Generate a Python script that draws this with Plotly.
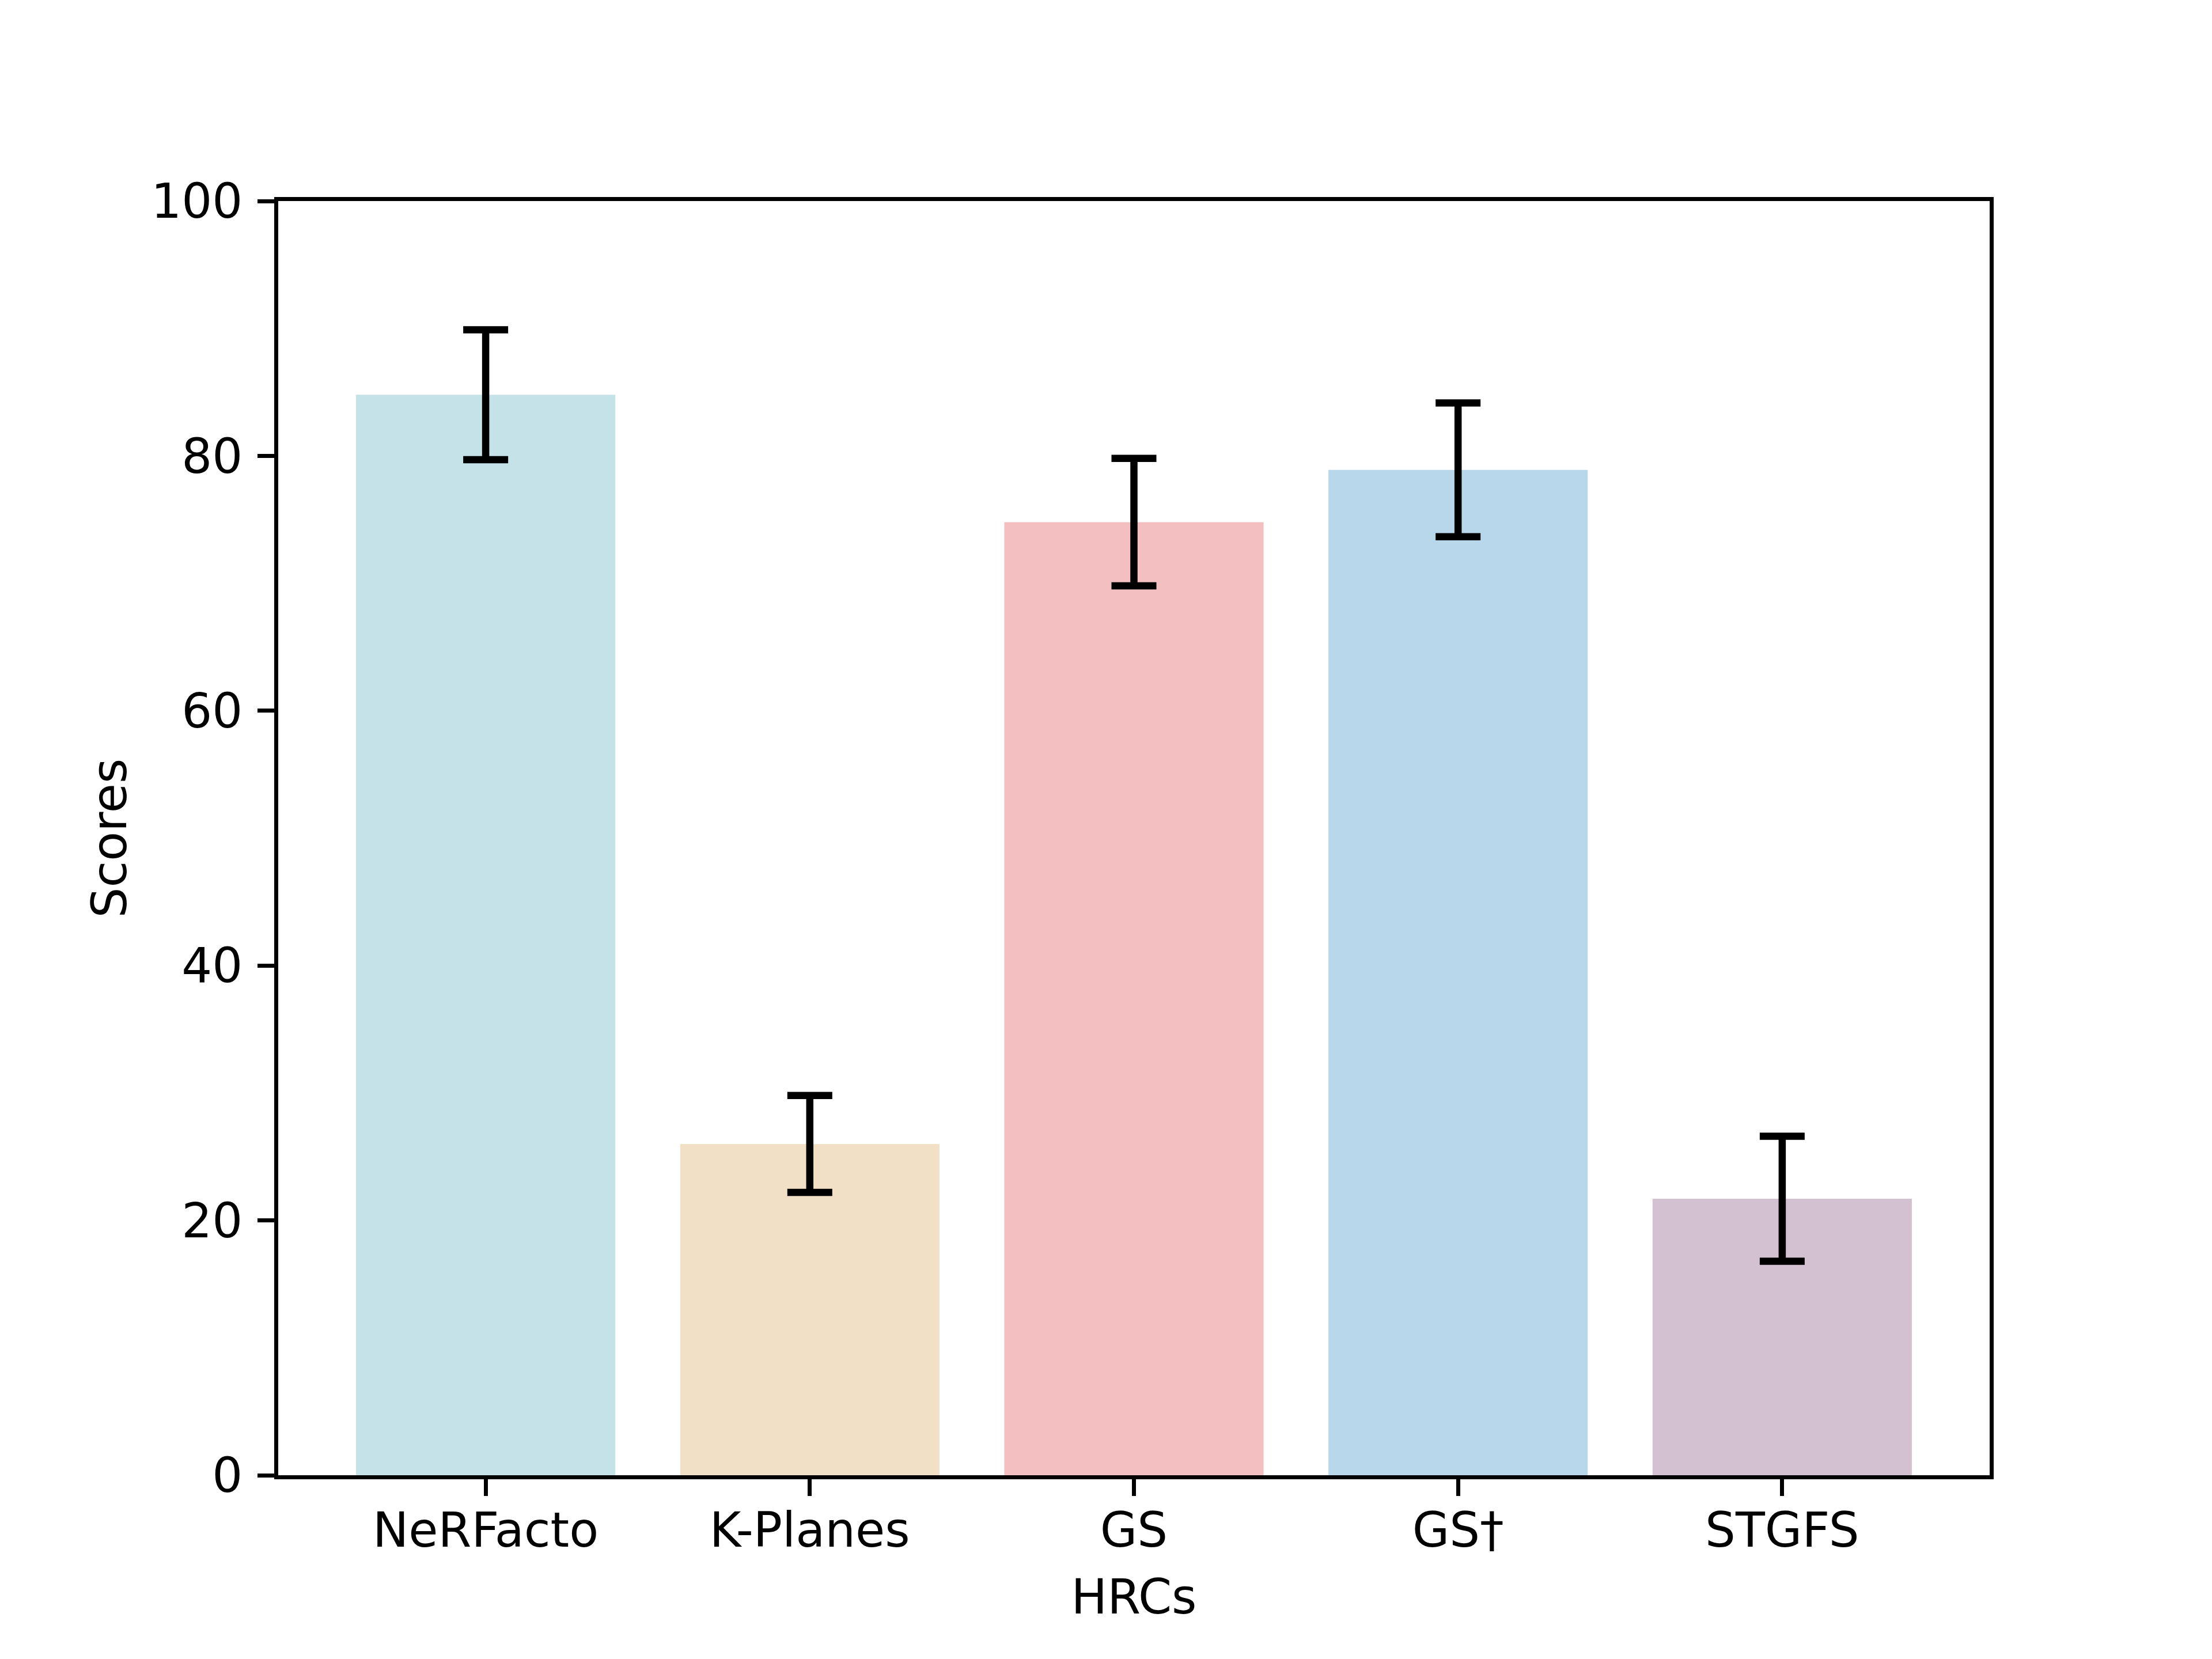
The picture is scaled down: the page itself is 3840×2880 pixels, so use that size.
import plotly.graph_objects as go

categories = ["NeRFacto", "K-Planes", "GS", "GS†", "STGFS"]
scores = [84.8, 26.0, 74.8, 78.9, 21.7]
errors = [5.1, 3.8, 5.0, 5.25, 4.9]
colors = ["#c5e2e8", "#f1e0c6", "#f3bfc0", "#b9d7ea", "#d3c0d1"]
y_ticks = [0, 20, 40, 60, 80, 100]

PT = 600 / 72.0
FONT = "DejaVu Sans"

fig = go.Figure()
fig.add_trace(go.Bar(
    x=list(range(len(categories))),
    y=scores,
    width=0.8,
    marker=dict(color=colors, line=dict(width=0)),
    error_y=dict(type="data", array=errors, visible=True,
                 color="black", thickness=1.5 * PT, width=39),
    showlegend=False,
))

fig.update_layout(
    width=3840, height=2880,
    paper_bgcolor="white", plot_bgcolor="white",
    margin=dict(l=475, r=394, t=341, b=327, pad=0),
    font=dict(family=FONT, size=10 * PT, color="black"),
    xaxis=dict(
        range=[-0.64, 4.64],
        tickmode="array",
        tickvals=list(range(len(categories))),
        ticktext=categories,
        showline=True, linecolor="black", linewidth=0.8 * PT, mirror=True,
        ticks="outside", ticklen=3.5 * PT, tickwidth=0.8 * PT, tickcolor="black",
        showgrid=False, zeroline=False,
        ticklabelstandoff=-12,
        title=dict(text="HRCs", standoff=41, font=dict(size=10 * PT)),
    ),
    yaxis=dict(
        range=[0, 100],
        tickmode="array",
        tickvals=y_ticks,
        ticktext=[str(v) for v in y_ticks],
        showline=True, linecolor="black", linewidth=0.8 * PT, mirror=True,
        ticks="outside", ticklen=3.5 * PT, tickwidth=0.8 * PT, tickcolor="black",
        showgrid=False, zeroline=False,
        ticklabelstandoff=9,
        title=dict(text="Scores", standoff=18, font=dict(size=10 * PT)),
    ),
)

fig.write_html("out.html")
